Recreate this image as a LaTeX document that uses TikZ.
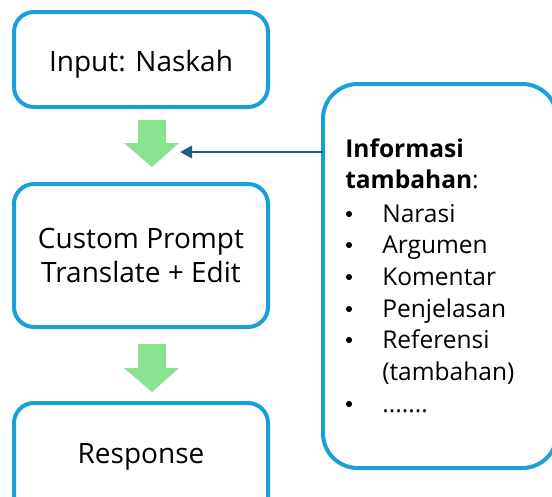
\documentclass[tikz,border=0pt]{standalone}
\usepackage{fontspec}
\setmainfont{Open Sans}
\usetikzlibrary{arrows.meta}
\definecolor{boxblue}{RGB}{24,161,217}
\definecolor{arrowgreen}{RGB}{136,226,143}
\definecolor{linkblue}{RGB}{30,94,128}
\tikzset{
  flowbox/.style={draw=boxblue, line width=3pt, rounded corners=15pt},
  maintext/.style={font=\fontsize{21pt}{25pt}\selectfont, anchor=base, inner sep=0pt},
  infotext/.style={font=\fontsize{18.4pt}{22pt}\selectfont, anchor=base west, inner sep=0pt},
  bulletmark/.style={circle, fill=black, inner sep=0pt, minimum size=4.6pt},
  greenarrow/.style={fill=arrowgreen, draw=none},
  linkarrow/.style={draw=linkblue, line width=2.2pt, -{Triangle[length=9pt,width=9pt]}}
}
\begin{document}
\begin{tikzpicture}[x=0.75pt,y=-0.75pt]
\useasboundingbox (0,0) rectangle (552,496);
\clip (0,0) rectangle (552,496);
% main boxes
\draw[flowbox] (14,12) rectangle (268,107);
\node[maintext] (inp) at (141,71) {Input: Naskah};
\draw[flowbox] (14,184) rectangle (268,327);
\node[maintext] (cp1) at (141,248) {Custom Prompt};
\node[maintext] (cp2) at (141,282) {Translate + Edit};
\draw[flowbox] (14,403) rectangle (268,520);
\node[maintext] (resp) at (141,463) {Response};
% green arrows
\fill[greenarrow] (138,120) -- (166,120) -- (166,143) -- (179,143) -- (152,167) -- (124,143) -- (138,143) -- cycle;
\fill[greenarrow] (138,344) -- (166,344) -- (166,368) -- (179,368) -- (152,392) -- (124,368) -- (138,368) -- cycle;
% info box
\draw[draw=boxblue, line width=3pt, rounded corners=26pt] (323,84) rectangle (557,468);
\coordinate (infowest) at (323,152);
\coordinate (arrowtip) at (180,152);
\draw[linkarrow] (infowest) -- (arrowtip);
\node[infotext] (t1) at (345,157) {\textbf{Informasi}};
\node[infotext] (t2) at (345,188) {\textbf{tambahan}:};
\node[bulletmark] (b1) at (349,214) {};
\node[infotext] (i1) at (382,222) {Narasi};
\node[bulletmark] (b2) at (349,245) {};
\node[infotext] (i2) at (382,253) {Argumen};
\node[bulletmark] (b3) at (349,277) {};
\node[infotext] (i3) at (382,285) {Komentar};
\node[bulletmark] (b4) at (349,309) {};
\node[infotext] (i4) at (382,317) {Penjelasan};
\node[bulletmark] (b5) at (349,340) {};
\node[infotext] (i5) at (382,348) {Referensi};
\node[infotext] (i5b) at (382,380) {(tambahan)};
\node[bulletmark] (b6) at (349,404) {};
\node[infotext] (i6) at (382,412) {.......};
\end{tikzpicture}
\end{document}
